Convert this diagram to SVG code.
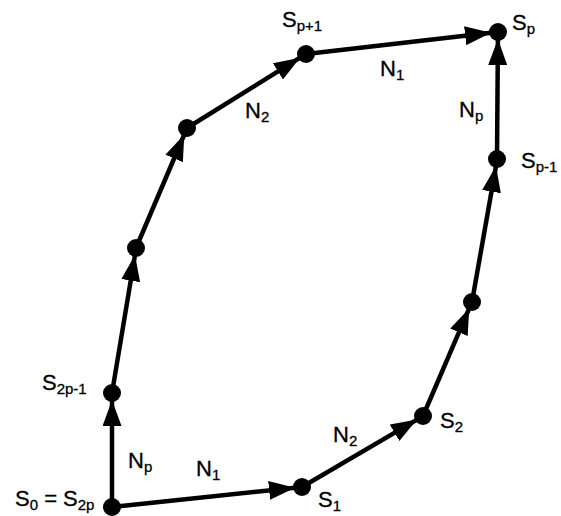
<svg xmlns="http://www.w3.org/2000/svg" width="561" height="516" viewBox="0 0 561 516">
<style>
.e{stroke:#000;stroke-width:4.5;fill:none;marker-end:url(#ah)}
.n{fill:#000}
text{font-family:"Liberation Sans",Arial,Helvetica,sans-serif;font-size:22px;fill:#000;stroke:#000;stroke-width:0.3}
.s{font-size:15px}
</style>
<defs>
<marker id="ah" viewBox="0 0 26 19" refX="26" refY="9.5" markerWidth="26" markerHeight="19" markerUnits="userSpaceOnUse" orient="auto">
<path d="M0,0 L26,9.5 L0,19 Z" fill="#000"/>
</marker>
</defs>
<rect width="561" height="516" fill="#fff"/>
<g id="connectors">
<line class="e" x1="112" y1="507" x2="295" y2="487.7"/>
<line class="e" x1="302" y1="487" x2="417" y2="419.6"/>
<line class="e" x1="423" y1="416" x2="469.2" y2="308.4"/>
<line class="e" x1="472" y1="302" x2="496" y2="166"/>
<line class="e" x1="497" y1="159" x2="497.9" y2="39"/>
<line class="e" x1="306" y1="54" x2="491" y2="32.8"/>
<line class="e" x1="187" y1="128" x2="300" y2="57.7"/>
<line class="e" x1="136" y1="248" x2="184.3" y2="134.5"/>
<line class="e" x1="112" y1="393" x2="135" y2="255"/>
<line class="e" x1="112" y1="507" x2="112" y2="400"/>
</g>
<g id="S0"><circle class="n" cx="112" cy="507" r="9"/><text x="15" y="506">S<tspan class="s" dy="4">0</tspan><tspan dy="-4"> = S</tspan><tspan class="s" dy="4">2p</tspan></text></g>
<g id="S1"><circle class="n" cx="302" cy="487" r="9"/><text x="318" y="507">S<tspan class="s" dy="4">1</tspan></text></g>
<g id="S2"><circle class="n" cx="423" cy="416" r="9"/><text x="440" y="428">S<tspan class="s" dy="4">2</tspan></text></g>
<g id="n3"><circle class="n" cx="472" cy="302" r="9"/></g>
<g id="Sp-1"><circle class="n" cx="497" cy="159" r="9"/><text x="521" y="168">S<tspan class="s" dy="4">p-1</tspan></text></g>
<g id="Sp"><circle class="n" cx="498" cy="32" r="9"/><text x="512" y="30">S<tspan class="s" dy="4">p</tspan></text></g>
<g id="Sp+1"><circle class="n" cx="306" cy="54" r="9"/><text x="282" y="27">S<tspan class="s" dy="4">p+1</tspan></text></g>
<g id="n7"><circle class="n" cx="187" cy="128" r="9"/></g>
<g id="n8"><circle class="n" cx="136" cy="248" r="9"/></g>
<g id="S2p-1"><circle class="n" cx="112" cy="393" r="9"/><text x="42" y="390">S<tspan class="s" dy="4">2p-1</tspan></text></g>
<g id="labels">
<text x="128" y="468">N<tspan class="s" dy="4">p</tspan></text>
<text x="196" y="476">N<tspan class="s" dy="4">1</tspan></text>
<text x="333" y="442">N<tspan class="s" dy="4">2</tspan></text>
<text x="459" y="117">N<tspan class="s" dy="4">p</tspan></text>
<text x="380" y="76">N<tspan class="s" dy="4">1</tspan></text>
<text x="245" y="118">N<tspan class="s" dy="4">2</tspan></text>
</g>
</svg>
